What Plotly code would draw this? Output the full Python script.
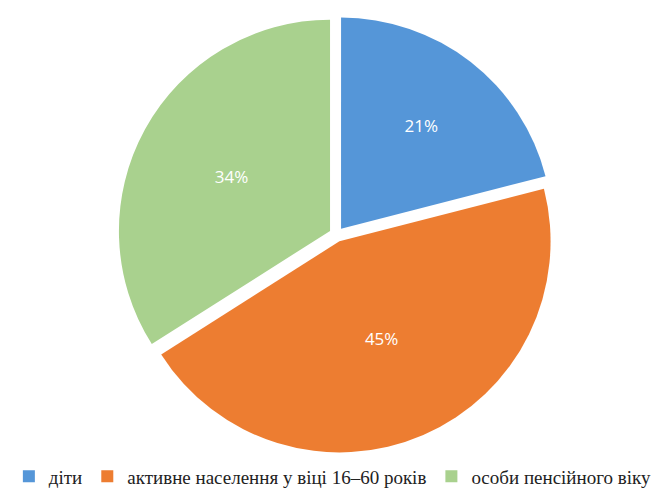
import plotly.graph_objects as go

labels = ["діти", "активне населення у віці 16–60 років", "особи пенсійного віку"]
shares = [21, 45, 34]
colors = ["#5596D8", "#ED7D31", "#A9D18E"]

fig = go.Figure(
    go.Pie(
        labels=labels,
        values=shares,
        sort=False,
        direction="clockwise",
        rotation=0,
        pull=[0.035, 0.035, 0.035],
        domain=dict(x=[0.165, 0.826], y=[0.0, 1.0]),
        marker=dict(colors=colors, line=dict(color="white", width=0)),
        textinfo="percent",
        textposition="inside",
        insidetextfont=dict(color="white", size=17, family="Open Sans, sans-serif"),
        hoverinfo="label+percent",
    )
)

fig.update_layout(
    width=663,
    height=491,
    margin=dict(l=0, r=0, t=8, b=46, autoexpand=False),
    font=dict(family="Liberation Serif, Times New Roman, serif"),
    paper_bgcolor="white",
    plot_bgcolor="white",
    showlegend=True,
    legend=dict(
        orientation="h",
        x=0.49,
        xanchor="center",
        y=-0.01,
        yanchor="top",
        font=dict(family="Liberation Serif, Times New Roman, serif", size=19, color="#222222"),
        itemwidth=30,
        tracegroupgap=0,
    ),
)

fig.write_html("out.html")
